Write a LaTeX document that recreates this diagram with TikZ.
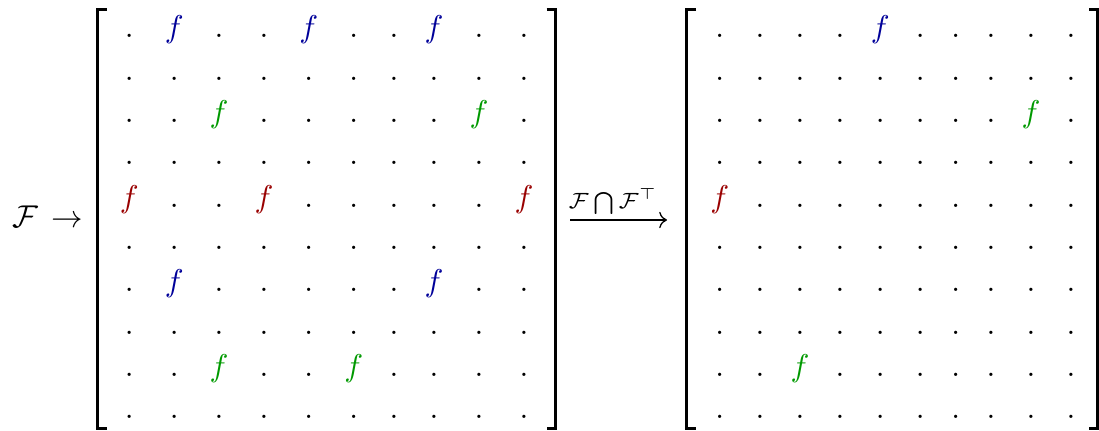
\documentclass[tikz,border=0pt]{standalone}
\usepackage{amsmath}
\usetikzlibrary{arrows.meta}
\definecolor{fb}{rgb}{0,0,0.6}
\definecolor{fr}{rgb}{0.6,0,0}
\definecolor{fg}{rgb}{0,0.6,0}
\definecolor{k}{rgb}{0,0,0}
\tikzset{
  cell/.style={inner sep=0pt, outer sep=0pt, anchor=base},
  bracket/.style={line width=0.8pt},
  mapto/.style={line width=0.4pt, -{Computer Modern Rightarrow}},
}
\begin{document}
\begin{tikzpicture}[x=0.3175pt, y=-0.3175pt]
\useasboundingbox (0,0) rectangle (1099,431);
\def\LX{{129.3,174.3,219,264,308.7,353.7,394,434,479,524}}
\def\RX{{719.7,760,800,840,880.3,920.3,955.7,991,1031,1071}}
% left matrix
\foreach \row [count=\i] in {
 {k/.,fb/f,k/.,k/.,fb/f,k/.,k/.,fb/f,k/.,k/.},
 {k/.,k/.,k/.,k/.,k/.,k/.,k/.,k/.,k/.,k/.},
 {k/.,k/.,fg/f,k/.,k/.,k/.,k/.,k/.,fg/f,k/.},
 {k/.,k/.,k/.,k/.,k/.,k/.,k/.,k/.,k/.,k/.},
 {fr/f,k/.,k/.,fr/f,k/.,k/.,k/.,k/.,k/.,fr/f},
 {k/.,k/.,k/.,k/.,k/.,k/.,k/.,k/.,k/.,k/.},
 {k/.,fb/f,k/.,k/.,k/.,k/.,k/.,fb/f,k/.,k/.},
 {k/.,k/.,k/.,k/.,k/.,k/.,k/.,k/.,k/.,k/.},
 {k/.,k/.,fg/f,k/.,k/.,fg/f,k/.,k/.,k/.,k/.},
 {k/.,k/.,k/.,k/.,k/.,k/.,k/.,k/.,k/.,k/.}} {
  \foreach \c/\s [count=\j] in \row {
    \pgfmathsetmacro\xx{\LX[\j-1]}
    \pgfmathsetmacro\yy{37.7+42.33*(\i-1)}
    \node[cell, text=\c] (L-\i-\j) at (\xx,\yy) {$\s$};
  }
}
% right matrix
\foreach \row [count=\i] in {
 {k/.,k/.,k/.,k/.,fb/f,k/.,k/.,k/.,k/.,k/.},
 {k/.,k/.,k/.,k/.,k/.,k/.,k/.,k/.,k/.,k/.},
 {k/.,k/.,k/.,k/.,k/.,k/.,k/.,k/.,fg/f,k/.},
 {k/.,k/.,k/.,k/.,k/.,k/.,k/.,k/.,k/.,k/.},
 {fr/f,k/.,k/.,k/.,k/.,k/.,k/.,k/.,k/.,k/.},
 {k/.,k/.,k/.,k/.,k/.,k/.,k/.,k/.,k/.,k/.},
 {k/.,k/.,k/.,k/.,k/.,k/.,k/.,k/.,k/.,k/.},
 {k/.,k/.,k/.,k/.,k/.,k/.,k/.,k/.,k/.,k/.},
 {k/.,k/.,fg/f,k/.,k/.,k/.,k/.,k/.,k/.,k/.},
 {k/.,k/.,k/.,k/.,k/.,k/.,k/.,k/.,k/.,k/.}} {
  \foreach \c/\s [count=\j] in \row {
    \pgfmathsetmacro\xx{\RX[\j-1]}
    \pgfmathsetmacro\yy{37.7+42.33*(\i-1)}
    \node[cell, text=\c] (R-\i-\j) at (\xx,\yy) {$\s$};
  }
}
% brackets
\draw[bracket] (106.7,9.7) -- (97.3,9.7) -- (97.3,428.3) -- (106.7,428.3);
\draw[bracket] (546.7,9.7) -- (555.3,9.7) -- (555.3,428.3) -- (546.7,428.3);
\draw[bracket] (696,9.7) -- (686.7,9.7) -- (686.7,428.3) -- (696,428.3);
\draw[bracket] (1089.3,9.7) -- (1097.6,9.7) -- (1097.6,428.3) -- (1089.3,428.3);
% left label
\node[cell, anchor=base west] (lab) at (12,228) {$\mathcal{F}\mkern3mu\rightarrow$};
% arrow between matrices
\coordinate (a1) at (570,220);
\coordinate (a2) at (667,220);
\draw[mapto] (a1) -- (a2);
\node[cell] (op) at (613,209) {$\scriptstyle\mathcal{F}\bigcap\mathcal{F}^{\top}$};
\end{tikzpicture}
\end{document}
